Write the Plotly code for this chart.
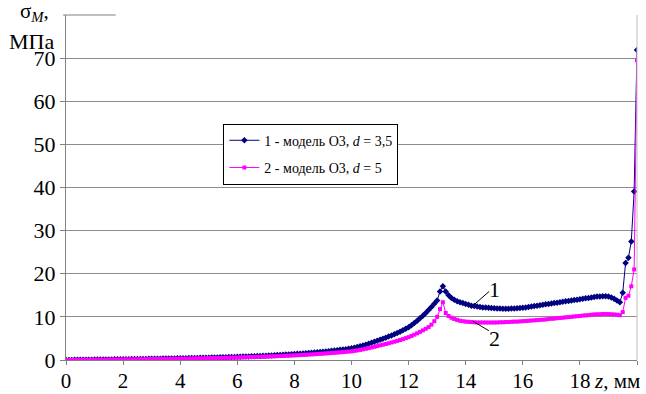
import numpy as np
import plotly.graph_objects as go

# abscissa grid, mm (sampling step 0.1 mm)
z_mm = np.round(np.arange(0, 201) * 0.1, 1)

# series 1: model O3, d = 3.5 (MPa)
sigma_d35 = [
    0.00, 0.01, 0.02, 0.03, 0.04, 0.05, 0.05, 0.06, 0.07, 0.08,
    0.09, 0.10, 0.10, 0.11, 0.12, 0.13, 0.14, 0.15, 0.16, 0.17,
    0.18, 0.19, 0.20, 0.21, 0.22, 0.23, 0.24, 0.25, 0.26, 0.27,
    0.28, 0.29, 0.30, 0.31, 0.32, 0.33, 0.35, 0.36, 0.37, 0.38,
    0.40, 0.41, 0.42, 0.44, 0.45, 0.47, 0.48, 0.50, 0.51, 0.53,
    0.55, 0.56, 0.58, 0.60, 0.62, 0.64, 0.66, 0.68, 0.70, 0.72,
    0.74, 0.76, 0.79, 0.81, 0.84, 0.86, 0.89, 0.92, 0.95, 0.98,
    1.01, 1.04, 1.07, 1.11, 1.14, 1.18, 1.22, 1.26, 1.30, 1.34,
    1.38, 1.43, 1.47, 1.52, 1.57, 1.62, 1.68, 1.73, 1.79, 1.85,
    1.91, 1.98, 2.05, 2.12, 2.19, 2.27, 2.35, 2.43, 2.52, 2.61,
    2.70, 2.85, 3.02, 3.19, 3.37, 3.56, 3.77, 3.98, 4.21, 4.45,
    4.70, 4.93, 5.17, 5.43, 5.69, 5.97, 6.27, 6.57, 6.90, 7.24,
    7.60, 8.07, 8.57, 9.10, 9.67, 10.27, 10.90, 11.58, 12.30, 13.06,
    13.80, 15.90, 17.10, 15.90, 15.00, 14.40, 14.00, 13.60, 13.40, 13.20,
    13.00, 12.80, 12.60, 12.50, 12.40, 12.30, 12.20, 12.15, 12.10, 12.05,
    12.00, 11.95, 11.95, 11.90, 11.90, 11.90, 11.95, 11.95, 12.00, 12.05,
    12.10, 12.20, 12.30, 12.40, 12.50, 12.60, 12.70, 12.80, 12.90, 13.00,
    13.10, 13.20, 13.30, 13.40, 13.50, 13.60, 13.70, 13.80, 13.90, 14.00,
    14.10, 14.20, 14.30, 14.40, 14.50, 14.60, 14.70, 14.75, 14.80, 14.80,
    14.70, 14.50, 14.20, 13.80, 13.40, 15.60, 22.50, 23.70, 27.50, 39.10,
    71.90,
]

# series 2: model O3, d = 5 (MPa)
sigma_d5 = [
    0.00, 0.01, 0.01, 0.02, 0.03, 0.03, 0.04, 0.05, 0.05, 0.06,
    0.07, 0.07, 0.08, 0.09, 0.09, 0.10, 0.11, 0.12, 0.12, 0.13,
    0.14, 0.15, 0.15, 0.16, 0.17, 0.18, 0.19, 0.19, 0.20, 0.21,
    0.22, 0.23, 0.24, 0.25, 0.26, 0.27, 0.28, 0.29, 0.30, 0.31,
    0.32, 0.33, 0.34, 0.35, 0.36, 0.38, 0.39, 0.40, 0.41, 0.43,
    0.44, 0.45, 0.47, 0.48, 0.50, 0.51, 0.53, 0.54, 0.56, 0.58,
    0.59, 0.61, 0.63, 0.65, 0.67, 0.69, 0.71, 0.73, 0.75, 0.78,
    0.80, 0.82, 0.85, 0.87, 0.90, 0.93, 0.96, 0.99, 1.02, 1.05,
    1.08, 1.11, 1.15, 1.18, 1.22, 1.26, 1.30, 1.34, 1.38, 1.43,
    1.47, 1.52, 1.57, 1.62, 1.67, 1.72, 1.78, 1.83, 1.89, 1.95,
    2.00, 2.11, 2.22, 2.34, 2.47, 2.61, 2.75, 2.90, 3.06, 3.22,
    3.40, 3.55, 3.71, 3.88, 4.06, 4.24, 4.43, 4.63, 4.84, 5.07,
    5.30, 5.58, 5.88, 6.19, 6.52, 6.87, 7.24, 7.63, 8.20, 9.00,
    10.00, 11.80, 13.40, 10.90, 10.20, 9.80, 9.50, 9.30, 9.10, 9.00,
    8.90, 8.85, 8.80, 8.75, 8.70, 8.70, 8.70, 8.70, 8.70, 8.70,
    8.70, 8.70, 8.75, 8.75, 8.80, 8.80, 8.85, 8.90, 8.90, 8.95,
    9.00, 9.05, 9.10, 9.15, 9.20, 9.25, 9.30, 9.35, 9.40, 9.50,
    9.55, 9.60, 9.70, 9.75, 9.80, 9.90, 9.95, 10.00, 10.10, 10.15,
    10.20, 10.30, 10.35, 10.40, 10.50, 10.55, 10.60, 10.60, 10.65, 10.65,
    10.65, 10.60, 10.55, 10.50, 10.40, 11.10, 14.40, 14.90, 17.10, 21.00,
    69.50,
]

series_names = ["1 - модель О3, <i>d</i> = 3,5", "2 - модель О3, <i>d</i> = 5"]
y_ticks = [0, 10, 20, 30, 40, 50, 60, 70]
x_ticks = [0, 2, 4, 6, 8, 10, 12, 14, 16, 18, 20]
x_ticktext = ["0", "2", "4", "6", "8", "10", "12", "14", "16", "18", ""]

FONT = "Liberation Serif, Times New Roman, serif"
NAVY = "#000080"
MAGENTA = "#FF00FF"

fig = go.Figure()
fig.add_trace(go.Scatter(
    x=z_mm, y=sigma_d35, mode="lines+markers", name=series_names[0],
    line=dict(color=NAVY, width=1),
    marker=dict(symbol="diamond", size=5, color=NAVY),
    legendgroup="a",
))
fig.add_trace(go.Scatter(
    x=z_mm, y=sigma_d5, mode="lines+markers", name=series_names[1],
    line=dict(color=MAGENTA, width=1),
    marker=dict(symbol="square", size=4, color=MAGENTA),
    legendgroup="b",
))

fig.update_layout(
    width=646, height=394,
    margin=dict(l=66, r=9, t=15, b=34, autoexpand=False),
    paper_bgcolor="white", plot_bgcolor="white",
    font=dict(family=FONT, size=22, color="black"),
    showlegend=True,
    legend=dict(
        x=0.2756, y=0.685, xanchor="left", yanchor="top",
        bgcolor="white", bordercolor="black", borderwidth=1,
        font=dict(family=FONT, size=14, color="black"),
        tracegroupgap=6, traceorder="grouped",
    ),
    xaxis=dict(
        range=[0, 20], tickvals=x_ticks, ticktext=x_ticktext,
        showgrid=False, zeroline=False, automargin=False,
        showline=True, linecolor="#808080", linewidth=1,
        ticks="outside", ticklen=4, tickcolor="#808080",
        ticklabelstandoff=-2,
        tickfont=dict(family=FONT, size=21, color="black"),
    ),
    yaxis=dict(
        range=[0, 80], tickvals=y_ticks,
        showgrid=True, gridcolor="#8c8c8c", gridwidth=1, zeroline=False, automargin=False,
        showline=True, linecolor="#808080", linewidth=1,
        ticks="outside", ticklen=5, tickcolor="#808080",
        tickfont=dict(family=FONT, size=22, color="black"),
    ),
)

# right border and short top border
fig.add_shape(type="line", xref="paper", yref="paper", x0=1, x1=1, y0=0, y1=1,
              line=dict(color="#c0c0c0", width=1))
fig.add_shape(type="line", xref="paper", yref="paper", x0=-0.005, x1=0.087, y0=1, y1=1,
              line=dict(color="#808080", width=1))

# axis labels
fig.add_annotation(text="σ<sub><i>M</i></sub>,", xref="paper", yref="paper",
                   x=-0.056, y=1.008, xanchor="center", yanchor="middle", showarrow=False,
                   font=dict(family=FONT, size=21, color="black"))
fig.add_annotation(text="МПа", xref="paper", yref="paper",
                   x=-0.06, y=0.922, xanchor="center", yanchor="middle", showarrow=False,
                   font=dict(family=FONT, size=22, color="black"))
fig.add_annotation(text="<i>z</i>, мм", xref="paper", yref="paper",
                   x=0.921, y=-0.02, xanchor="left", yanchor="top", showarrow=False,
                   font=dict(family=FONT, size=21, color="black"))

# curve labels with leader lines
fig.add_shape(type="line", x0=14.24, y0=12.5, x1=14.82, y1=15.9, line=dict(color="black", width=1))
fig.add_shape(type="line", x0=14.25, y0=9.0, x1=14.81, y1=6.8, line=dict(color="black", width=1))
fig.add_annotation(text="1", x=15.02, y=16.3, showarrow=False,
                   font=dict(family=FONT, size=22, color="black"))
fig.add_annotation(text="2", x=15.02, y=4.9, showarrow=False,
                   font=dict(family=FONT, size=22, color="black"))

fig.write_html("out.html", config={"displayModeBar": False},
               post_script="document.body.style.margin='0';")
